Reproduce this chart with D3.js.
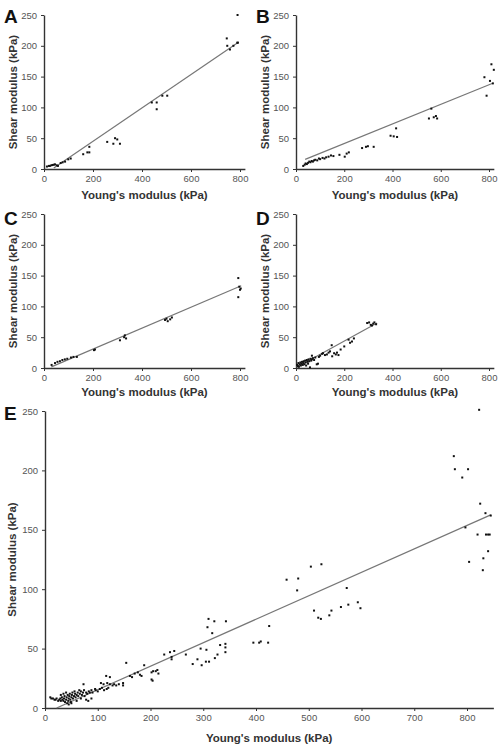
<!DOCTYPE html>
<html>
<head>
<meta charset="utf-8">
<script src="https://cdn.jsdelivr.net/npm/d3@7"></script>
<style>
  html, body { margin: 0; padding: 0; background: #fff; }
  svg { display: block; font-family: "Liberation Sans", Arial, sans-serif; }
</style>
</head>
<body>
<svg id="chart" width="504" height="750"></svg>
<script>
// ---------------- data ----------------
const panelLetters = ["A", "B", "C", "D", "E"];
const xTitle = "Young's modulus (kPa)";
const yTitle = "Shear modulus (kPa)";
const yTicks = [0, 50, 100, 150, 200, 250];
const xTicksSmall = [0, 200, 400, 600, 800];
const xTicksE = [0, 100, 200, 300, 400, 500, 600, 700, 800];

// [Young's modulus, shear modulus]
const pointsA = [[12,4],[20,5],[24,5],[30,6],[35,6.5],[40,7],[45,7.5],[52,6],[57,5],[68,9.7],[76,10.8],[86,12],[99,15.7],[109,17],
  [160,24],[177,27],[185,27],[185,36],[258,44],[283,41],[290,50],[299,48],[310,41],
  [440,108],[460,108],[460,97],[483,119],[503,119],[746,212],[748,200],[759,194],[773,200],[789,205],[791,205],[790,250]];
const pointsB = [[30,5],[36,7],[40,9],[45,8],[50,10],[55,12],[60,11],[65,13],[70,12],[75,14],[80,15],[88,14],[95,17],[100,16],
  [110,18],[118,17],[125,19],[135,20],[145,22],[155,21],[180,23],[202,20],[210,25],[219,27],[274,34],[290,36],[298,37],[322,36],
  [392,54],[405,53],[419,52],[415,66],[551,82],[561,98],[571,84],[580,86],[585,82],[781,149],[790,119],[804,143],[810,170],[816,139],[820,161]];
const pointsC = [[31,5],[45,8],[55,10],[65,11],[75,13],[85,14],[95,15],[110,17],[120,18],[134,18],[204,29],[208,30],
  [310,45],[327,50],[330,53],[335,48],[494,78],[500,80],[505,76],[515,79],[522,82],[793,146],[797,132],[800,127],[803,129],[793,115]];
const pointsD = [[5,5],[8,3],[10,8],[12,2],[15,6],[18,9],[20,4],[22,7],[25,10],[28,5],[30,8],[32,11],[35,6],[38,12],[40,9],[42,4],
  [45,13],[48,10],[50,7],[52,14],[55,11],[58,1],[60,15],[63,12],[66,20],[66,14],[70,16],[75,13],[80,17],[86,6],[91,7],[95,18],
  [100,20],[108,23],[112,24],[120,21],[128,22],[135,25],[141,27],[148,37],[150,19],[158,24],[165,22],[170,25],[176,21],[185,30],
  [200,35],[218,46],[224,41],[232,43],[240,48],[295,73],[303,74],[310,70],[315,69],[320,72],[325,74],[332,71]];
const pointsE = [
  [823,251],[775,212],[777,201],[802,201],[791,194],[825,172],[835,164],[845,162],[797,152],[820,146],[836,146],[840,146],[843,146],
  [840,132],[831,126],[804,123],[830,116],
  [458,108],[480,109],[478,99],[504,119],[524,121],[572,101],[510,82],[518,76],[523,75],[539,78],[543,82],[561,85],[575,87],[593,89],[598,84],
  [395,55],[406,55],[409,56],[423,55],[425,69],
  [310,75],[308,68],[321,73],[317,63],[343,73],[342,54],[342,51],[342,47],[295,50],[306,49],[332,53],[327,45],[322,42],[311,39],
  [305,39],[297,36],[289,41],[280,37],[267,45],[245,48],[237,47],[226,45],[240,43],[240,41],
  [202,30],[205,31],[210,31],[215,29],[213,32],[202,24],[204,23],[188,36],[154,38],[176,30],[180,28],[183,27],[170,29],[165,26],
  [161,27],[148,21],[148,19],
  [116,27],[123,26],[131,20],[135,19],[140,20],[123,20],[128,19],[118,21],[111,20],[106,21],[104,16],[108,17],[112,15],[117,16],
  [120,17],[95,16],[73,20],[82,6],[78,7],[88,8],[100,14],[96,15],[90,13],
  [10,9],[12,8],[15,8],[18,7],[20,7],[22,8],[25,6],[27,7],[29,8],[30,6],[32,9],[33,7],[35,6],[36,8],[37,10],[38,5],[40,7],[41,9],
  [42,4],[43,11],[44,6],[45,8],[46,10],[47,12],[48,7],[49,5],[50,9],[51,11],[52,13],[53,8],[55,10],[56,14],[57,12],[58,9],[60,11],
  [62,13],[63,10],[65,15],[66,12],[68,14],[70,11],[72,13],[74,15],[75,10],[78,13],[80,12],[83,14],[85,13],[88,15],[68,8],[60,6],
  [35,12],[30,11],[40,13],[45,3],[50,4]];

// linear fits: [slope, intercept, xStart, xEnd]
const fitA = [0.271, -9.3, 40, 795];
const fitB = [0.159, 9.5, 38, 813];
const fitC = [0.170, -3.3, 30, 805];
const fitD = [0.216, 0.5, 3, 336];
const fitE = [0.1975, -4.3, 22, 845];

// ---------------- drawing ----------------
const svg = d3.select("#chart");
const FONT = '"Liberation Sans", Arial, sans-serif';

function drawPanel(letter, pts, fit, xTicks, lay) {
  const g = svg.append("g");
  const xEnd = lay.x0 + (lay.x800 - lay.x0) * lay.xMax / 800;
  const x = d3.scaleLinear().domain([0, lay.xMax]).range([lay.x0, xEnd]);
  const y = d3.scaleLinear().domain([0, 250]).range([lay.y0, lay.y250]);

  const xAxis = g.append("g").attr("transform", `translate(0,${lay.y0})`)
    .call(d3.axisBottom(x).tickValues(xTicks).tickSize(3).tickPadding(3).tickSizeOuter(0));
  const yAxis = g.append("g").attr("transform", `translate(${lay.x0},0)`)
    .call(d3.axisLeft(y).tickValues(yTicks).tickSize(3).tickPadding(4).tickSizeOuter(0));
  [xAxis, yAxis].forEach(a => {
    a.select(".domain").attr("stroke", "#333").attr("stroke-width", 1.4);
    a.selectAll(".tick line").attr("stroke", "#333").attr("stroke-width", 1);
    a.selectAll(".tick text").attr("fill", "#555").style("font-size", "9.5px").style("font-family", FONT);
  });

  // fit line
  g.append("line")
    .attr("x1", x(fit[2])).attr("y1", y(fit[0] * fit[2] + fit[1]))
    .attr("x2", x(fit[3])).attr("y2", y(fit[0] * fit[3] + fit[1]))
    .attr("stroke", "#777").attr("stroke-width", 1.2);

  // points
  g.selectAll("rect.pt").data(pts).join("rect").attr("class", "pt")
    .attr("x", d => x(d[0]) - 1).attr("y", d => y(d[1]) - 1)
    .attr("width", 2).attr("height", 2).attr("fill", "#111");

  // titles
  g.append("text").attr("x", (lay.x0 + xEnd) / 2).attr("y", lay.y0 + lay.xTitleDy)
    .attr("text-anchor", "middle").attr("fill", "#333")
    .style("font-size", "11.5px").style("font-weight", "bold").style("font-family", FONT)
    .text(xTitle);
  g.append("text")
    .attr("transform", `translate(${lay.yTitleX},${(lay.y0 + lay.y250) / 2}) rotate(-90)`)
    .attr("text-anchor", "middle").attr("dy", "0.35em").attr("fill", "#333")
    .style("font-size", "11.5px").style("font-weight", "bold").style("font-family", FONT)
    .text(yTitle);
  g.append("text").attr("x", lay.letterX).attr("y", lay.letterY)
    .attr("fill", "#111").style("font-size", "19px").style("font-weight", "bold").style("font-family", FONT)
    .text(letter);
}

drawPanel(panelLetters[0], pointsA, fitA, xTicksSmall,
  {x0: 44, x800: 240, xMax: 820, y0: 169, y250: 15, xTitleDy: 30, yTitleX: 13, letterX: 4, letterY: 23});
drawPanel(panelLetters[1], pointsB, fitB, xTicksSmall,
  {x0: 296, x800: 489, xMax: 820, y0: 169, y250: 15, xTitleDy: 30, yTitleX: 265, letterX: 256, letterY: 23});
drawPanel(panelLetters[2], pointsC, fitC, xTicksSmall,
  {x0: 44, x800: 240, xMax: 820, y0: 368, y250: 214, xTitleDy: 28, yTitleX: 13, letterX: 4, letterY: 225});
drawPanel(panelLetters[3], pointsD, fitD, xTicksSmall,
  {x0: 296, x800: 489, xMax: 820, y0: 368, y250: 214, xTitleDy: 28, yTitleX: 265, letterX: 256, letterY: 225});
drawPanel(panelLetters[4], pointsE, fitE, xTicksE,
  {x0: 45, x800: 467, xMax: 850, y0: 708, y250: 411, xTitleDy: 34, yTitleX: 12, letterX: 4, letterY: 420});
</script>
</body>
</html>
